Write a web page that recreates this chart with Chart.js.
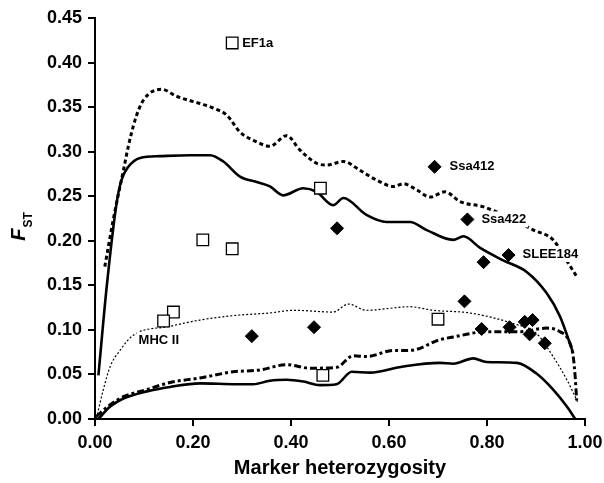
<!DOCTYPE html>
<html>
<head>
<meta charset="utf-8">
<script src="https://cdn.jsdelivr.net/npm/chart.js@4.4.1/dist/chart.umd.min.js"></script>
<style>
  body { margin: 0; background: #fff; }
  #wrap { width: 604px; height: 483px; }
</style>
</head>
<body>
<div id="wrap"><canvas id="fstChart" width="604" height="483"></canvas></div>
<script>
// Markers
const squareX = [0.28, 0.46, 0.22, 0.28, 0.16, 0.14, 0.70, 0.465];
const squareY = [0.422, 0.259, 0.201, 0.191, 0.120, 0.110, 0.112, 0.049];
const diamondX = [0.693, 0.760, 0.494, 0.844, 0.793, 0.754, 0.447, 0.320, 0.789, 0.846, 0.877, 0.893, 0.887, 0.918];
const diamondY = [0.283, 0.224, 0.214, 0.184, 0.176, 0.132, 0.103, 0.093, 0.101, 0.103, 0.109, 0.111, 0.095, 0.085];

// Marker labels (anchored on the marker they name)
const labelText = ['EF1a', 'Ssa412', 'Ssa422', 'SLEE184', 'MHC II'];
const labelX = [0.28, 0.693, 0.760, 0.844, 0.14];
const labelY = [0.422, 0.283, 0.224, 0.184, 0.110];

// Curves
const upperDashX = [0.020, 0.037, 0.058, 0.068, 0.082, 0.099, 0.136, 0.167, 0.214, 0.241, 0.269, 0.296, 0.330, 0.357, 0.391, 0.418, 0.452, 0.473, 0.507, 0.541, 0.575, 0.609, 0.629, 0.657, 0.684, 0.714, 0.745, 0.793, 0.850, 0.895, 0.935, 0.960, 0.983];
const upperDashY = [0.171, 0.223, 0.279, 0.306, 0.336, 0.358, 0.370, 0.362, 0.354, 0.349, 0.341, 0.322, 0.311, 0.306, 0.318, 0.302, 0.287, 0.285, 0.289, 0.279, 0.268, 0.261, 0.264, 0.257, 0.249, 0.255, 0.244, 0.238, 0.225, 0.212, 0.201, 0.180, 0.160];

const upperSolidX = [0.007, 0.024, 0.044, 0.054, 0.068, 0.092, 0.133, 0.194, 0.235, 0.262, 0.296, 0.330, 0.357, 0.384, 0.425, 0.452, 0.486, 0.507, 0.554, 0.595, 0.643, 0.677, 0.731, 0.752, 0.786, 0.833, 0.881, 0.922, 0.949, 0.976];
const upperSolidY = [0.049, 0.149, 0.242, 0.268, 0.283, 0.293, 0.295, 0.296, 0.296, 0.289, 0.272, 0.266, 0.261, 0.251, 0.259, 0.255, 0.240, 0.248, 0.229, 0.221, 0.221, 0.212, 0.201, 0.205, 0.192, 0.178, 0.165, 0.141, 0.115, 0.074];

const midDotX = [0.003, 0.017, 0.031, 0.051, 0.078, 0.153, 0.214, 0.282, 0.357, 0.405, 0.486, 0.517, 0.554, 0.643, 0.690, 0.765, 0.854, 0.901, 0.935, 0.963, 0.986];
const midDotY = [0.001, 0.033, 0.059, 0.077, 0.094, 0.104, 0.111, 0.116, 0.119, 0.122, 0.120, 0.129, 0.122, 0.126, 0.122, 0.119, 0.107, 0.096, 0.070, 0.044, 0.018];

const lowerDashX = [0.003, 0.031, 0.058, 0.106, 0.153, 0.214, 0.282, 0.337, 0.391, 0.439, 0.493, 0.527, 0.554, 0.609, 0.643, 0.704, 0.731, 0.799, 0.867, 0.922, 0.949, 0.966, 0.976, 0.980, 0.983];
const lowerDashY = [0.003, 0.016, 0.025, 0.033, 0.041, 0.046, 0.053, 0.055, 0.061, 0.057, 0.058, 0.071, 0.070, 0.077, 0.077, 0.089, 0.092, 0.098, 0.098, 0.102, 0.098, 0.089, 0.070, 0.047, 0.021];

const lowerSolidX = [0.007, 0.031, 0.058, 0.106, 0.153, 0.214, 0.289, 0.323, 0.357, 0.391, 0.425, 0.459, 0.493, 0.524, 0.561, 0.629, 0.704, 0.731, 0.772, 0.799, 0.861, 0.901, 0.935, 0.963, 0.980];
const lowerSolidY = [0.000, 0.014, 0.023, 0.031, 0.036, 0.040, 0.039, 0.039, 0.043, 0.044, 0.042, 0.038, 0.039, 0.053, 0.052, 0.059, 0.063, 0.062, 0.068, 0.064, 0.063, 0.051, 0.033, 0.014, 0.000];

const FONT = "'Liberation Sans', Arial, sans-serif";

function pairs(xs, ys) {
  return xs.map((x, i) => ({ x: x, y: ys[i] }));
}

function curve(xs, ys, width, dash) {
  return {
    data: pairs(xs, ys),
    showLine: true,
    borderColor: '#000',
    borderWidth: width,
    borderDash: dash,
    pointRadius: 0,
    cubicInterpolationMode: 'monotone',
    fill: false
  };
}

// label placement relative to its marker, in pixels
const labelPlace = {
  'EF1a':    { dx: 10, dy: 0 },
  'Ssa412':  { dx: 15, dy: 0 },
  'Ssa422':  { dx: 14, dy: 0 },
  'SLEE184': { dx: 14, dy: -1 },
  'MHC II':  { dx: -25, dy: 19 }
};

const labelPlugin = {
  id: 'markerLabels',
  afterDatasetsDraw(chart) {
    const c = chart.ctx;
    const xs = chart.scales.x, ys = chart.scales.y;
    c.save();
    c.font = 'bold 13px ' + FONT;
    c.textBaseline = 'middle';
    c.textAlign = 'left';
    labelText.forEach((t, i) => {
      const p = labelPlace[t];
      const px = xs.getPixelForValue(labelX[i]) + p.dx;
      const py = ys.getPixelForValue(labelY[i]) + p.dy;
      const w = c.measureText(t).width;
      c.fillStyle = '#fff';
      c.fillRect(px - 2, py - 8, w + 4, 16);
      c.fillStyle = '#000';
      c.fillText(t, px, py);
    });
    c.restore();
  }
};

const yTitlePlugin = {
  id: 'yTitle',
  afterDraw(chart) {
    const c = chart.ctx;
    const area = chart.chartArea;
    const cy = (area.top + area.bottom) / 2 + 8;
    c.save();
    c.translate(25, cy);
    c.rotate(-Math.PI / 2);
    c.fillStyle = '#000';
    c.textBaseline = 'alphabetic';
    c.textAlign = 'left';
    c.font = 'italic bold 20px ' + FONT;
    const fw = c.measureText('F').width;
    c.font = 'bold 12px ' + FONT;
    const sw = c.measureText('ST').width;
    const start = -(fw + sw + 1) / 2;
    c.font = 'italic bold 20px ' + FONT;
    c.fillText('F', start, 0);
    c.font = 'bold 12px ' + FONT;
    c.fillText('ST', start + fw + 1, 7);
    c.restore();
  }
};

const axisStyle = {
  border: { display: true, color: '#000', width: 2 },
  grid: { display: true, drawOnChartArea: false, drawTicks: true, tickLength: 7, color: '#000', lineWidth: 2 }
};

new Chart(document.getElementById('fstChart'), {
  type: 'scatter',
  data: {
    datasets: [
      {
        data: pairs(squareX, squareY),
        pointStyle: 'rect',
        pointRadius: 8.2,
        pointBackgroundColor: '#fff',
        pointBorderColor: '#000',
        pointBorderWidth: 1.3
      },
      {
        data: pairs(diamondX, diamondY),
        pointStyle: 'rectRot',
        pointRadius: 6.5,
        pointBackgroundColor: '#000',
        pointBorderColor: '#000',
        pointBorderWidth: 1
      },
      curve(upperDashX, upperDashY, 3, [4, 3]),
      curve(upperSolidX, upperSolidY, 2.6, []),
      curve(midDotX, midDotY, 1.2, [2, 2]),
      curve(lowerDashX, lowerDashY, 3, [7, 3, 3, 3]),
      curve(lowerSolidX, lowerSolidY, 2.6, [])
    ]
  },
  options: {
    responsive: false,
    animation: false,
    layout: { padding: { top: 18, right: 19, left: 0, bottom: 0 } },
    plugins: {
      legend: { display: false },
      tooltip: { enabled: false }
    },
    scales: {
      x: {
        type: 'linear',
        min: 0,
        max: 1,
        ...axisStyle,
        ticks: {
          stepSize: 0.2,
          padding: 6,
          color: '#000',
          font: { family: FONT, size: 18, weight: 'bold' },
          callback: v => v.toFixed(2)
        },
        title: {
          display: true,
          text: 'Marker heterozygosity',
          color: '#000',
          font: { family: FONT, size: 20, weight: 'bold' },
          padding: { top: 0, bottom: 3 }
        },
        afterFit: s => { s.height = 64; s.paddingLeft = 0; s.paddingRight = 0; }
      },
      y: {
        type: 'linear',
        min: 0,
        max: 0.45,
        ...axisStyle,
        ticks: {
          stepSize: 0.05,
          padding: 6,
          color: '#000',
          font: { family: FONT, size: 18, weight: 'bold' },
          callback: v => v.toFixed(2)
        },
        afterFit: s => { s.width = 95; s.paddingTop = 0; s.paddingBottom = 0; }
      }
    }
  },
  plugins: [labelPlugin, yTitlePlugin]
});
</script>
</body>
</html>
